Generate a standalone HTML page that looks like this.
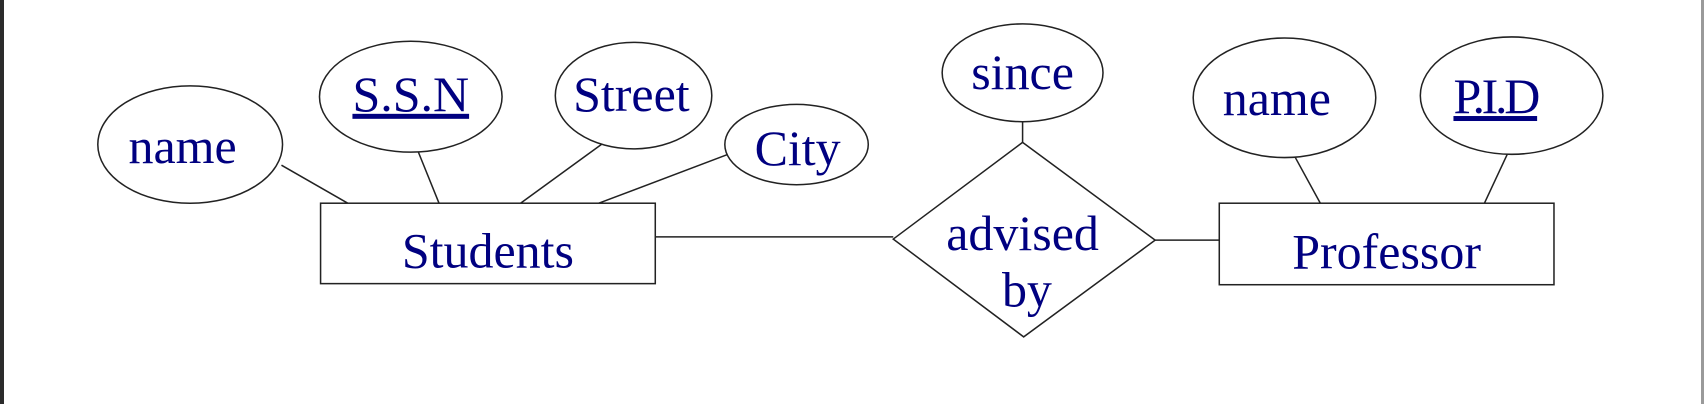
<!DOCTYPE html>
<html><head><meta charset="utf-8"><style>
html,body{margin:0;padding:0;background:#fff;}
svg{display:block;}
text{font-family:"Liberation Serif","Times New Roman",serif;fill:#000080;font-size:46px;text-anchor:middle;}
</style></head><body>
<svg width="1704" height="404" viewBox="0 0 1704 404" xmlns="http://www.w3.org/2000/svg">
<rect x="0" y="0" width="1704" height="404" fill="#fff"/>
<rect x="0" y="0" width="4" height="404" fill="#2b2b2b"/>
<rect x="1701" y="0" width="3" height="404" fill="#9a9a9a"/>
<g transform="scale(1.0867)" stroke="#222" stroke-width="1.4" fill="none">
<line x1="259" y1="152" x2="320" y2="187"/>
<line x1="385" y1="140" x2="404" y2="187"/>
<line x1="563" y1="126" x2="479" y2="187"/>
<line x1="670" y1="142" x2="551" y2="187"/>
<line x1="603" y1="218" x2="822" y2="218"/>
<line x1="941" y1="112" x2="941" y2="131"/>
<line x1="1063" y1="221" x2="1122" y2="221"/>
<line x1="1192" y1="145" x2="1215" y2="187"/>
<line x1="1387" y1="142" x2="1366" y2="187"/>
<ellipse cx="175" cy="133" rx="85" ry="54" fill="#fff"/>
<ellipse cx="378" cy="89" rx="84" ry="51" fill="#fff"/>
<ellipse cx="583" cy="88" rx="72" ry="49" fill="#fff"/>
<ellipse cx="733" cy="133" rx="66" ry="37" fill="#fff"/>
<ellipse cx="941" cy="67" rx="74" ry="45" fill="#fff"/>
<ellipse cx="1182" cy="90" rx="84" ry="55" fill="#fff"/>
<ellipse cx="1391" cy="88" rx="84" ry="54" fill="#fff"/>
<rect x="295" y="187" width="308" height="74" fill="#fff"/>
<rect x="1122" y="187" width="308" height="75" fill="#fff"/>
<polygon points="941,131 1063,221 942,310 822,220" fill="#fff"/>
</g>
<g transform="scale(1.0867)">
<text x="168" y="150">name</text>
<text x="378" y="102" text-decoration="underline">S.S.N</text>
<text x="581" y="102">Street</text>
<text x="734" y="152">City</text>
<text x="941" y="82">since</text>
<text x="941" y="230">advised</text>
<text x="945" y="282">by</text>
<text x="449" y="246">Students</text>
<text x="1276" y="247">Professor</text>
<text x="1175" y="106">name</text>
<text x="1376" y="104" text-decoration="underline" letter-spacing="-3">P.I.D</text>
</g>
</svg>
</body></html>
